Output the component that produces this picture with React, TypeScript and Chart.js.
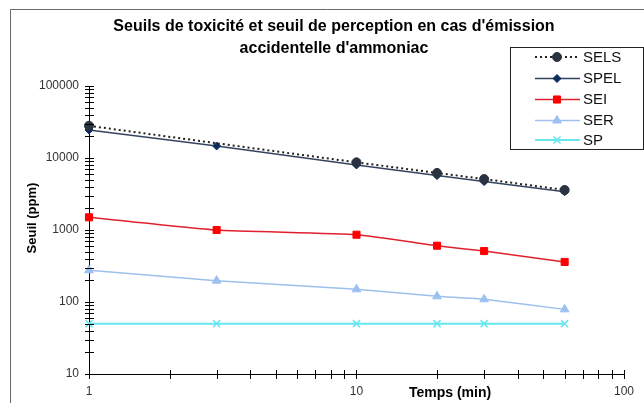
import React, { useEffect, useRef } from "react";
import { Chart, registerables } from "chart.js";
import { drawPoint } from "chart.js/helpers";

Chart.register(...registerables);

const titleLines = [
  "Seuils de toxicité et seuil de perception en cas d'émission",
  "accidentelle d'ammoniac",
];
const xTitle = "Temps (min)";
const yTitle = "Seuil (ppm)";

const timesSELS = [1, 10, 20, 30, 60];
const valuesSELS = [28000, 8700, 6200, 5100, 3600];
const times = [1, 3, 10, 20, 30, 60];
const valuesSPEL = [24500, 14700, 8000, 5700, 4700, 3400];
const valuesSEI = [1500, 1000, 860, 605, 510, 360];
const valuesSER = [276, 198, 150, 120, 109, 79];
const valuesSP = [50, 50, 50, 50, 50, 50];

const FONT = "'Liberation Sans', Arial, sans-serif";

const toPoints = (xs: number[], ys: number[]) => xs.map((x, i) => ({ x, y: ys[i] }));

const decorPlugin = {
  id: "decor",
  beforeDraw(chart: any) {
    const ctx = chart.ctx;
    ctx.save();
    ctx.strokeStyle = "#6a6a6a";
    ctx.lineWidth = 1;
    ctx.beginPath();
    ctx.moveTo(10.5, 410);
    ctx.lineTo(10.5, 9.5);
    ctx.lineTo(650, 9.5);
    ctx.stroke();
    ctx.restore();
  },
  afterDraw(chart: any) {
    const ctx = chart.ctx;
    const xs = chart.scales.x;
    const ys = chart.scales.y;
    const area = chart.chartArea;
    ctx.save();
    // crossing tick marks
    ctx.strokeStyle = "#000";
    ctx.lineWidth = 1;
    ctx.beginPath();
    for (let d = 1; d < 5; d++) {
      for (let m = 1; m <= 10; m++) {
        const v = m * Math.pow(10, d);
        const py = Math.round(ys.getPixelForValue(v)) + 0.5;
        ctx.moveTo(area.left - 4, py);
        ctx.lineTo(area.left + 5, py);
      }
    }
    for (let d = 0; d < 2; d++) {
      for (let m = 1; m <= 10; m++) {
        const v = m * Math.pow(10, d);
        const px = Math.round(xs.getPixelForValue(v)) + 0.5;
        ctx.moveTo(px, area.bottom - 4);
        ctx.lineTo(px, area.bottom + 5);
      }
    }
    ctx.stroke();

    // title
    ctx.fillStyle = "#000";
    ctx.font = `bold 16px ${FONT}`;
    ctx.textAlign = "center";
    ctx.textBaseline = "middle";
    ctx.fillText(titleLines[0], 334, 27);
    ctx.fillText(titleLines[1], 334, 49);

    // axis titles
    ctx.font = `bold 14px ${FONT}`;
    ctx.fillText(xTitle, 450, 393);
    ctx.save();
    ctx.translate(32, 218);
    ctx.rotate(-Math.PI / 2);
    ctx.font = `bold 13px ${FONT}`;
    ctx.fillText(yTitle, 0, 0);
    ctx.restore();

    // legend
    ctx.fillStyle = "#fff";
    ctx.fillRect(510, 47, 133, 102);
    ctx.strokeStyle = "#222";
    ctx.lineWidth = 1;
    ctx.strokeRect(510.5, 47.5, 133, 102);
    const rows = [57, 78.5, 99.5, 120.5, 140];
    chart.data.datasets.forEach((ds: any, i: number) => {
      const y = rows[i];
      ctx.save();
      ctx.strokeStyle = ds.borderColor;
      ctx.lineWidth = ds.borderWidth;
      ctx.setLineDash(ds.borderDash || []);
      ctx.beginPath();
      ctx.moveTo(535, y);
      ctx.lineTo(580, y);
      ctx.stroke();
      ctx.setLineDash([]);
      ctx.fillStyle = ds.pointBackgroundColor;
      ctx.strokeStyle = ds.pointBorderColor;
      ctx.lineWidth = ds.pointBorderWidth;
      drawPoint(ctx, { pointStyle: ds.pointStyle, radius: ds.pointRadius, rotation: 0, borderWidth: ds.pointBorderWidth }, 557, y);
      ctx.restore();
      ctx.fillStyle = "#111";
      ctx.font = `15px ${FONT}`;
      ctx.textAlign = "left";
      ctx.textBaseline = "middle";
      ctx.fillText(ds.label, 583, y + 0.5);
    });
    ctx.restore();
  },
};

export default function App() {
  const ref = useRef<HTMLCanvasElement>(null);
  useEffect(() => {
    const labelFor = (v: any) => {
      const l = Math.log10(Number(v));
      return Math.abs(l - Math.round(l)) < 1e-9 ? String(Number(v)) : "";
    };
    const chart = new Chart(ref.current as HTMLCanvasElement, {
      type: "line",
      data: {
        datasets: [
          {
            label: "SELS",
            data: toPoints(timesSELS, valuesSELS),
            borderColor: "#222",
            borderWidth: 2,
            borderDash: [2, 3],
            pointStyle: "circle",
            pointRadius: 4.5,
            pointBackgroundColor: "#2a3340",
            pointBorderColor: "#2a3340",
            pointBorderWidth: 1,
            clip: false,
          },
          {
            label: "SPEL",
            data: toPoints(times, valuesSPEL),
            borderColor: "#34445e",
            borderWidth: 1.5,
            pointStyle: "rectRot",
            pointRadius: 4,
            pointBackgroundColor: "#0b2d5c",
            pointBorderColor: "#0b2d5c",
            pointBorderWidth: 1,
            clip: false,
          },
          {
            label: "SEI",
            data: toPoints(times, valuesSEI),
            borderColor: "#e0202e",
            borderWidth: 1.5,
            tension: 0.15,
            pointStyle: "rect",
            pointRadius: 5,
            pointBackgroundColor: "#ff0000",
            pointBorderColor: "#ff0000",
            pointBorderWidth: 1,
            clip: false,
          },
          {
            label: "SER",
            data: toPoints(times, valuesSER),
            borderColor: "#9ec0ec",
            borderWidth: 1.5,
            tension: 0.1,
            pointStyle: "triangle",
            pointRadius: 5,
            pointBackgroundColor: "#9cc0f0",
            pointBorderColor: "#9cc0f0",
            pointBorderWidth: 1,
            clip: false,
          },
          {
            label: "SP",
            data: toPoints(times, valuesSP),
            borderColor: "#66e6ee",
            borderWidth: 2,
            pointStyle: "crossRot",
            pointRadius: 5,
            pointBackgroundColor: "#66e6ee",
            pointBorderColor: "#66e6ee",
            pointBorderWidth: 1.5,
            clip: false,
          },
        ],
      },
      options: {
        animation: false,
        responsive: false,
        events: [],
        layout: { padding: { top: 86, right: 17, left: 0, bottom: 0 } },
        plugins: {
          legend: { display: false },
          title: { display: false },
          tooltip: { enabled: false },
        },
        scales: {
          x: {
            type: "logarithmic",
            min: 1,
            max: 100,
            afterFit: (s: any) => {
              s.height = 29;
            },
            grid: { drawOnChartArea: false, drawTicks: false },
            border: { display: true, color: "#000", width: 1 },
            ticks: {
              autoSkip: false,
              maxRotation: 0,
              padding: 10,
              color: "#333",
              font: { family: FONT, size: 12 },
              callback: labelFor,
            },
          },
          y: {
            type: "logarithmic",
            min: 10,
            max: 100000,
            afterFit: (s: any) => {
              s.width = 89;
            },
            grid: { drawOnChartArea: false, drawTicks: false },
            border: { display: true, color: "#000", width: 1 },
            ticks: {
              autoSkip: false,
              padding: 10,
              color: "#333",
              font: { family: FONT, size: 12 },
              callback: labelFor,
            },
          },
        },
      },
      plugins: [decorPlugin],
    });
    return () => chart.destroy();
  }, []);
  return (
    <div style={{ position: "absolute", left: 0, top: 0, width: 644, height: 403, background: "#fff" }}>
      <canvas ref={ref} width={644} height={403} />
    </div>
  );
}
